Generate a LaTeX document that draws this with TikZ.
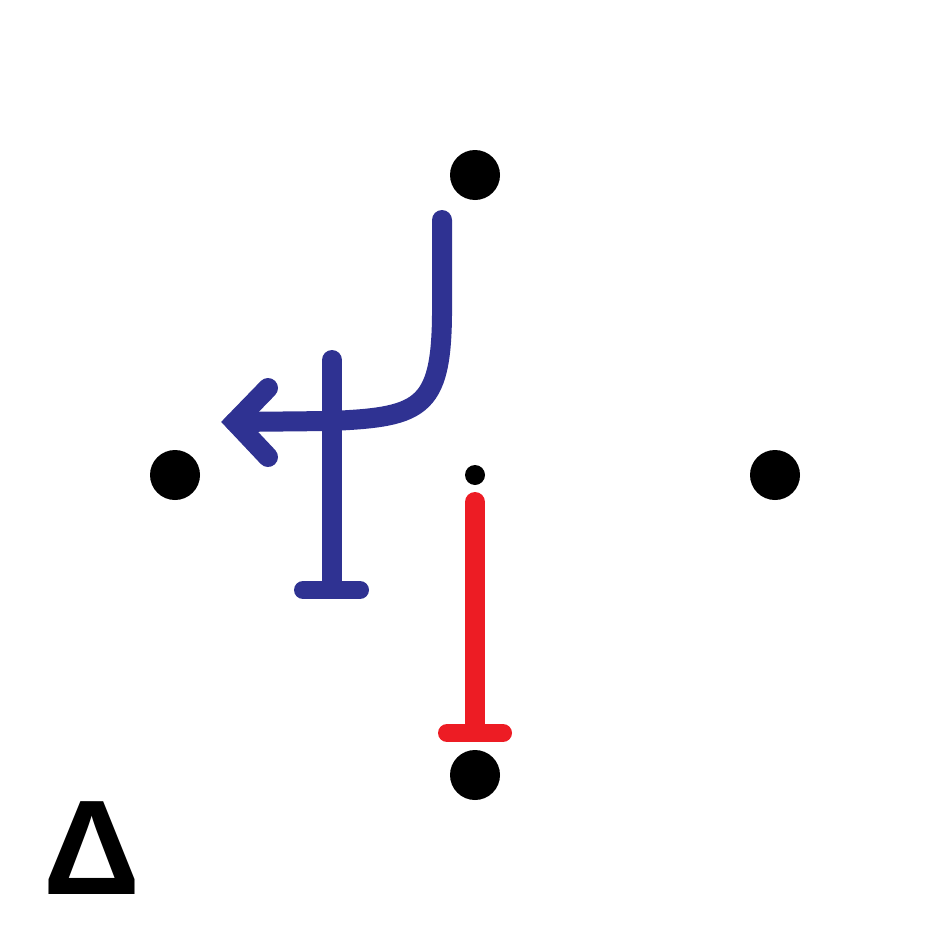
\documentclass[tikz,border=0pt]{standalone}
\usepackage{fontspec}
\newfontfamily\deltafont{Liberation Sans}
\definecolor{pathblue}{RGB}{47,50,146}
\definecolor{pathred}{RGB}{237,28,36}
\begin{document}
	\begin{tikzpicture}[x=1pt,y=-1pt,
		dot/.style={circle,fill=black,inner sep=0pt,minimum size=50pt},
		smalldot/.style={circle,fill=black,inner sep=0pt,minimum size=20pt},
		stem/.style={line width=20pt,line cap=round},
		tbar/.style={line width=18pt,line cap=round}]
		\useasboundingbox (0,0) rectangle (950,950);
		\path
		(475,175) node[dot] (top) {}
		(175,475) node[dot] (left) {}
		(775,475) node[dot] (right) {}
		(475,775) node[dot] (bottom) {}
		(475,475) node[smalldot] (centre) {}
		;
		\node[anchor=base,inner sep=0pt,font=\deltafont\bfseries\fontsize{135}{140}\selectfont] (delta) at (92,894) {Δ};
		\coordinate (redstart) at (475,502);
		\coordinate (redend) at (475,733);
		\coordinate (bluestart) at (442,220);
		\coordinate (bluetip) at (235,422);
		\coordinate (tstart) at (332,360);
		\coordinate (tend) at (332,590);
		\draw[pathred,stem,shorten >=10pt] (redstart) -- (redend);
		\draw[pathred,tbar] ([xshift=-28pt]redend) -- ([xshift=28pt]redend);
		\draw[pathblue,stem,shorten >=10pt] (tstart) -- (tend);
		\draw[pathblue,tbar] ([xshift=-29pt]tend) -- ([xshift=28pt]tend);
		\draw[pathblue,stem] (bluestart) -- (442,300) .. controls (443,408) and (425,417) .. (330,421) -- (bluetip);
		\draw[pathblue,line width=20pt,line cap=round,line join=miter] ([shift={(33,-34)}]bluetip) -- (bluetip) -- ([shift={(33,35)}]bluetip);
	\end{tikzpicture}
\end{document}
